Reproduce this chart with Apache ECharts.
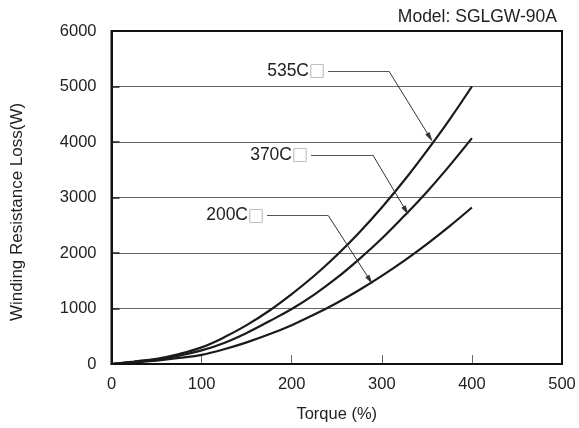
<!DOCTYPE html>
<html>
<head>
<meta charset="utf-8">
<script src="https://cdn.jsdelivr.net/npm/echarts@6/dist/echarts.min.js"></script>
<style>
html,body{margin:0;padding:0;background:#fff;}
#chart{width:579px;height:428px;}
</style>
</head>
<body>
<div id="chart"></div>
<script>
// ---- data ----
const torque = [0,25,50,75,100,125,150,175,200,225,250,275,300,325,350,375,400];
const loss535 = [0,45,95,180,300,480,700,960,1260,1590,1960,2370,2820,3310,3840,4400,5000];
const loss370 = [0,38,80,150,245,380,560,770,990,1250,1550,1890,2260,2670,3100,3570,4070];
const loss200 = [0,30,62,110,165,265,390,535,700,890,1100,1333,1587,1862,2160,2480,2820];
const xTicks = [0,100,200,300,400,500];
const yTicks = [0,1000,2000,3000,4000,5000,6000];

// annotations: label, lead start x, lead y, elbow x, arrow tip x, arrow tip y (data units)
const annoNames = ['535C', '370C', '200C'];
const annoStartX = [240.3, 221.4, 172.6];
const annoY = [5275, 3767, 2674];
const annoElbowX = [308, 290, 240.6];
const annoTipX = [353.5, 326.9, 286.9];
const annoTipY = [4080, 2760, 1510];

const FONT = '"Liberation Sans", Arial, Helvetica, sans-serif';
const chart = echarts.init(document.getElementById('chart'));

function mk(arr){ return torque.map((t,i)=>[t, arr[i]]); }
const curveStyle = {color:'#1a1a1a', width:2.2};

const annoMark = annoNames.map((n,i)=>[
  [{coord:[annoStartX[i], annoY[i]], symbol:'none', lineStyle:{color:'#555'}}, {coord:[annoElbowX[i], annoY[i]], symbol:'none'}],
  [{coord:[annoElbowX[i], annoY[i]], symbol:'none'}, {coord:[annoTipX[i], annoTipY[i]], symbol:'triangle', symbolSize:[5,10]}]
]).flat();

chart.setOption({
  animation:false,
  backgroundColor:'#fff',
  grid:{left:111.5, right:17, top:31, bottom:62, show:true, borderColor:'#111', borderWidth:2, backgroundColor:'transparent', z:5},
  title:{text:'Model: SGLGW-90A', right:17, top:3, textStyle:{fontFamily:FONT, fontSize:17.5, fontWeight:'normal', color:'#222'}},
  xAxis:{
    type:'value', min:0, max:500, interval:100,
    name:'Torque (%)', nameLocation:'middle', nameGap:42,
    nameTextStyle:{fontFamily:FONT, fontSize:16.5, color:'#222'},
    axisLine:{show:true, lineStyle:{color:'#111', width:2}},
    axisTick:{show:true, inside:true, length:9, lineStyle:{color:'#666', width:1}},
    axisLabel:{fontFamily:FONT, fontSize:16.5, color:'#222', margin:12,
      formatter:function(v){ return xTicks.indexOf(v) >= 0 ? String(v) : ''; }},
    splitLine:{show:false}
  },
  yAxis:{
    type:'value', min:0, max:6000, interval:1000,
    axisLine:{show:true, lineStyle:{color:'#111', width:2}},
    axisTick:{show:true, inside:true, length:8, lineStyle:{color:'#222', width:1.5}},
    axisLabel:{fontFamily:FONT, fontSize:16.5, color:'#222', margin:15,
      formatter:function(v){ return yTicks.indexOf(v) >= 0 ? String(v) : ''; }},
    splitLine:{show:true, lineStyle:{color:'#666', width:1.2}}
  },
  series:[
    {name:'535C', type:'line', data:mk(loss535), smooth:0.4, symbol:'none', lineStyle:curveStyle, z:3,
     markLine:{silent:true, animation:false, symbol:['none','triangle'], label:{show:false},
       lineStyle:{color:'#333', width:1, type:'solid'}, data:annoMark}},
    {name:'370C', type:'line', data:mk(loss370), smooth:0.4, symbol:'none', lineStyle:curveStyle, z:3},
    {name:'200C', type:'line', data:mk(loss200), smooth:0.4, symbol:'none', lineStyle:curveStyle, z:3}
  ]
});

const g = annoNames.map((n,i)=>{
  const p = chart.convertToPixel({gridIndex:0}, [annoStartX[i], annoY[i]]);
  return {
    type:'text', x:p[0]-3, y:p[1], z:10,
    style:{
      text:'{a|'+n+'}{b|□}', align:'right', verticalAlign:'middle',
      rich:{
        a:{fontFamily:FONT, fontSize:17.5, fill:'#222'},
        b:{fontFamily:'"Noto Sans CJK JP", "DejaVu Sans", sans-serif', fontSize:16, fill:'#888'}
      }
    }
  };
});
g.push({
  type:'text', x:17, y:212, rotation:Math.PI/2, z:10,
  style:{text:'Winding Resistance Loss(W)', align:'center', verticalAlign:'middle',
    fontFamily:FONT, fontSize:17, fill:'#222'}
});
chart.setOption({graphic:g});
</script>
</body>
</html>
